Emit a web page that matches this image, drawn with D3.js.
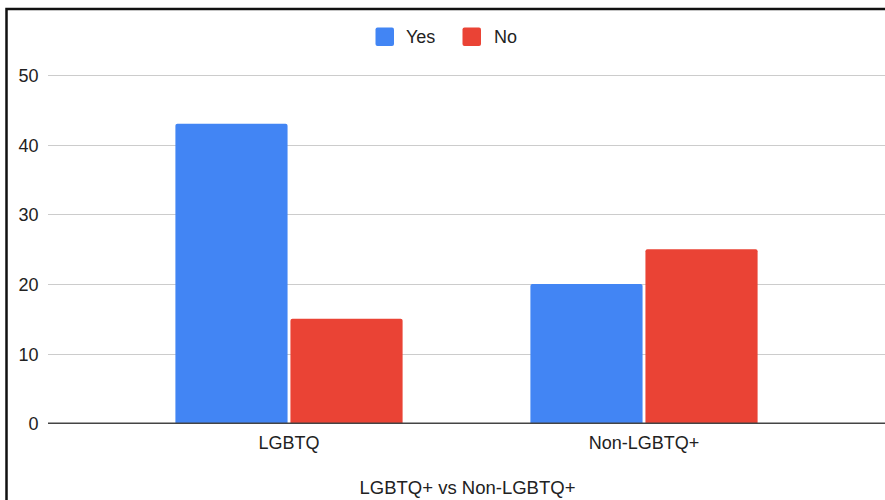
<!DOCTYPE html>
<html>
<head>
<meta charset="utf-8">
<script src="https://cdn.jsdelivr.net/npm/d3@7"></script>
<style>
  html, body { margin: 0; padding: 0; background: #fff; }
  svg { display: block; font-family: "Liberation Sans", Arial, sans-serif; }
</style>
</head>
<body>
<svg id="chart" width="885" height="500"></svg>
<script>
const categories = ["LGBTQ", "Non-LGBTQ+"];
const seriesNames = ["Yes", "No"];
const yesValues = [43, 20];
const noValues = [15, 25];
const yTicks = [0, 10, 20, 30, 40, 50];
const xTitle = "LGBTQ+ vs Non-LGBTQ+";
const colors = ["#4285F4", "#EA4335"];

const svg = d3.select("#chart");
const W = 885, H = 500;

// frame border (top & left visible)
svg.append("rect")
  .attr("x", 6.5).attr("y", 9)
  .attr("width", W + 20).attr("height", H + 20)
  .attr("fill", "none").attr("stroke", "#111").attr("stroke-width", 2.5);

const y = d3.scaleLinear().domain([0, 50]).range([423.3, 75]);
const x0 = d3.scaleBand().domain(categories).range([111.5, 821.5])
  .paddingInner(0.36).paddingOuter(0.18);
const x1 = d3.scaleBand().domain(seriesNames).range([0, x0.bandwidth()])
  .paddingInner(0.025);

const gridLeft = 48, gridRight = W;

// gridlines
svg.append("g").selectAll("line")
  .data(yTicks.filter(t => t !== 0))
  .join("line")
  .attr("x1", gridLeft).attr("x2", gridRight)
  .attr("y1", d => Math.round(y(d)) + 0.5).attr("y2", d => Math.round(y(d)) + 0.5)
  .attr("stroke", "#cccccc").attr("stroke-width", 1);

// y axis labels
const yAxis = d3.axisLeft(y).tickValues(yTicks).tickSize(0).tickPadding(0);
const yg = svg.append("g").attr("transform", `translate(38.5,0)`).call(yAxis);
yg.select(".domain").remove();
yg.selectAll("text")
  .attr("font-size", "18px")
  .attr("font-family", "Liberation Sans, Arial, sans-serif")
  .attr("fill", "#222")
  .attr("dy", "0.36em");

// bars
const data = categories.map((c, i) => ({ cat: c, vals: [yesValues[i], noValues[i]] }));
function topRounded(x, yTop, w, h, r) {
  return `M${x},${yTop + h}V${yTop + r}Q${x},${yTop} ${x + r},${yTop}H${x + w - r}Q${x + w},${yTop} ${x + w},${yTop + r}V${yTop + h}Z`;
}
const groups = svg.append("g").selectAll("g")
  .data(data).join("g")
  .attr("transform", d => `translate(${x0(d.cat)},0)`);
groups.selectAll("path")
  .data(d => d.vals.map((v, j) => ({ key: seriesNames[j], v, j })))
  .join("path")
  .attr("d", d => {
    const bx = x1(d.key), w = x1.bandwidth();
    const yt = y(d.v), h = y(0) - y(d.v);
    return topRounded(bx, yt, w, h, 2);
  })
  .attr("fill", d => colors[d.j]);

// baseline
svg.append("line")
  .attr("x1", gridLeft).attr("x2", gridRight)
  .attr("y1", y(0)).attr("y2", y(0))
  .attr("stroke", "#444").attr("stroke-width", 1.5);

// x axis labels
const xAxis = d3.axisBottom(x0).tickSize(0).tickPadding(0);
const xg = svg.append("g").attr("transform", `translate(0,0)`).call(xAxis);
xg.select(".domain").remove();
xg.selectAll("text")
  .attr("y", 449).attr("dy", null)
  .attr("font-size", "18px")
  .attr("font-family", "Liberation Sans, Arial, sans-serif")
  .attr("fill", "#222");

// x title
svg.append("text")
  .attr("x", 467.5).attr("y", 494)
  .attr("text-anchor", "middle")
  .attr("font-size", "18.5px")
  .attr("fill", "#222")
  .text(xTitle);

// legend
const legend = svg.append("g");
const legendItems = [
  { name: seriesNames[0], color: colors[0], sx: 375.5, tx: 406 },
  { name: seriesNames[1], color: colors[1], sx: 462.5, tx: 494 }
];
legendItems.forEach(it => {
  legend.append("rect")
    .attr("x", it.sx).attr("y", 27.5).attr("width", 18.5).attr("height", 18.5)
    .attr("rx", 2).attr("fill", it.color);
  legend.append("text")
    .attr("x", it.tx).attr("y", 42.7)
    .attr("font-size", "18px").attr("fill", "#222")
    .text(it.name);
});
</script>
</body>
</html>
